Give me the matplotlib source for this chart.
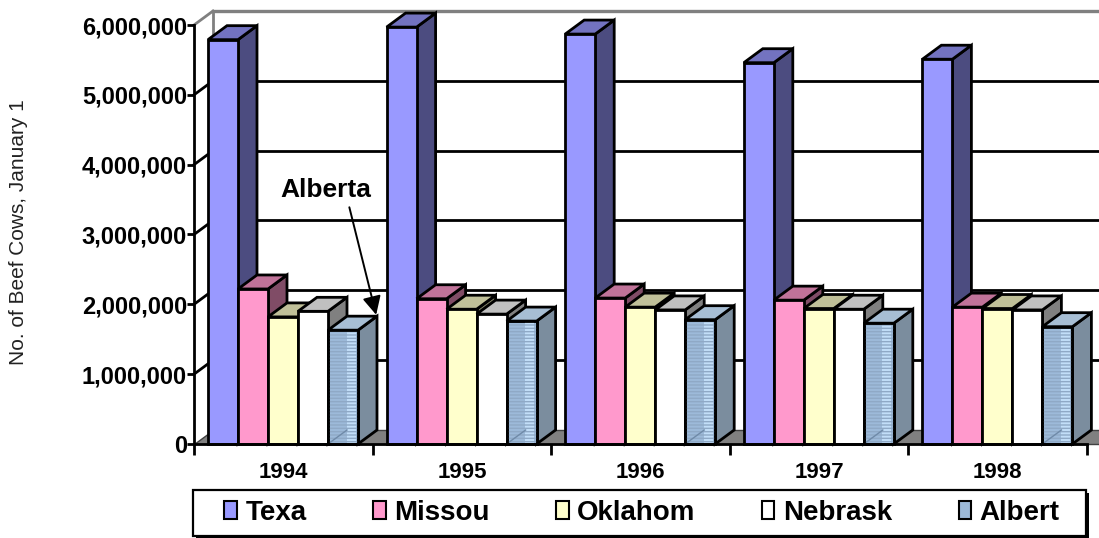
import numpy as np
import matplotlib
matplotlib.use("Agg")
import matplotlib.pyplot as plt
from matplotlib.patches import Polygon, Patch, Rectangle

plt.rcParams['font.family'] = ['Liberation Sans', 'DejaVu Sans']

years = ['1994', '1995', '1996', '1997', '1998']
series = ['Texa', 'Missou', 'Oklahom', 'Nebrask', 'Albert']
texas = [5790000, 5970000, 5870000, 5460000, 5510000]
missouri = [2220000, 2080000, 2090000, 2060000, 1960000]
oklahoma = [1820000, 1930000, 1960000, 1940000, 1940000]
nebraska = [1900000, 1860000, 1920000, 1930000, 1920000]
alberta = [1630000, 1760000, 1780000, 1730000, 1680000]
values = [texas, missouri, oklahoma, nebraska, alberta]

front_cols = ['#9999FF', '#FF99CC', '#FFFFCC', '#FFFFFF', '#9DBAD9']
top_cols = ['#7373C0', '#C07399', '#C0C099', '#C0C0C0', '#A7BED4']
side_cols = ['#4C4C80', '#804C66', '#808066', '#808080', '#7B8D9E']

W, H = 1099, 538
fig = plt.figure(figsize=(W / 100, H / 100), dpi=100)
x_left, x_right, y_zero, y_top = 194, 1087, 444, 25
ax = fig.add_axes([x_left / W, (H - y_zero) / H, (x_right - x_left) / W, (y_zero - y_top) / H])
ax.set_xlim(0, 5)
ax.set_ylim(0, 6e6)

px_x = (x_right - x_left) / 5.0
px_y = (y_zero - y_top) / 6e6
dx = 19 / px_x
dy = 14 / px_y

lw = 2.0
# back wall
ax.add_patch(Polygon([(dx, dy), (5 + dx, dy), (5 + dx, 6e6 + dy), (dx, 6e6 + dy)],
                     closed=True, facecolor='white', edgecolor='none', zorder=0.5, clip_on=False))
for v in range(1, 6):
    yv = v * 1e6
    ax.plot([dx, 5 + dx], [yv + dy, yv + dy], color='black', lw=lw, zorder=0.6, clip_on=False)
    ax.plot([0, dx], [yv, yv + dy], color='black', lw=lw, zorder=0.6, clip_on=False)
ax.plot([dx, 5 + dx], [6e6 + dy, 6e6 + dy], color='#808080', lw=lw + 0.4, zorder=0.6, clip_on=False)
ax.plot([0, dx], [6e6, 6e6 + dy], color='#808080', lw=lw, zorder=0.6, clip_on=False)
ax.plot([dx, dx], [dy, 6e6 + dy], color='#808080', lw=lw, zorder=0.6, clip_on=False)
# floor
ax.add_patch(Polygon([(0, 0), (5 + dx, 0), (5 + dx, dy), (dx, dy)], closed=True,
                     facecolor='#808080', edgecolor='#404040', lw=1.0, zorder=0.7, clip_on=False))

off = 14 / px_x
bw = 30 / px_x
z = 2
for i in range(len(years)):
    for s in range(len(series)):
        x0 = i + off + s * bw
        h = values[s][i]
        # side
        ax.add_patch(Polygon([(x0 + bw, 0), (x0 + bw + dx, dy), (x0 + bw + dx, h + dy), (x0 + bw, h)],
                             closed=True, facecolor=side_cols[s], edgecolor='black', lw=lw,
                             joinstyle='miter', zorder=z, clip_on=False))
        # top
        ax.add_patch(Polygon([(x0, h), (x0 + bw, h), (x0 + bw + dx, h + dy), (x0 + dx, h + dy)],
                             closed=True, facecolor=top_cols[s], edgecolor='black', lw=lw,
                             joinstyle='miter', zorder=z, clip_on=False))
        # front
        ax.bar(x0, h, width=bw, align='edge', color=front_cols[s], edgecolor='black',
               linewidth=lw, zorder=z + 0.1, clip_on=False)
        if s == 4:
            ax.bar(x0 + bw * 0.62, h, width=bw * 0.3, align='edge', color='#C2DEF8',
                   linewidth=0, zorder=z + 0.15, clip_on=False)
            ax.bar(x0, h, width=bw, align='edge', color='none', edgecolor='#8FA9C6',
                   hatch='-----', linewidth=0, zorder=z + 0.2, clip_on=False)
            ax.plot([x0, x0 + dx], [0, dy], color='#6F8AA8', lw=1.0, zorder=z + 0.25)
            ax.bar(x0, h, width=bw, align='edge', color='none', edgecolor='black',
                   linewidth=lw, zorder=z + 0.3, clip_on=False)
        z += 1

for sp in ['top', 'right']:
    ax.spines[sp].set_visible(False)
for sp in ['left', 'bottom']:
    ax.spines[sp].set_linewidth(lw)
    ax.spines[sp].set_zorder(100)

yt = np.arange(0, 7) * 1e6
ax.set_yticks(yt)
ax.set_yticklabels([f'{int(v):,}' for v in yt], fontweight='bold')
ax.tick_params(axis='y', length=5, width=lw, pad=0, labelsize=17)

ax.set_xticks(np.arange(0, 6))
ax.set_xticklabels([])
ax.tick_params(axis='x', which='major', length=8, width=lw)
ax.set_xticks(np.arange(len(years)) + 0.5, minor=True)
ax.set_xticklabels(years, minor=True, fontweight='bold', fontsize=16)
ax.tick_params(axis='x', which='minor', length=0, pad=13)

fig.text(19 / W, (H - 232) / H, 'No. of Beef Cows, January 1', rotation=90,
         ha='center', va='center', fontsize=15, color='#222222')

ax.annotate('Alberta', xy=(1.02, 1.85e6), xytext=(0.74, 3.64e6), textcoords='data',
            ha='center', va='center', fontsize=19, fontweight='bold', zorder=200,
            arrowprops=dict(arrowstyle='-|>', color='black', lw=1.4, mutation_scale=28,
                            relpos=(0.74, 0.0), shrinkA=2, shrinkB=0))

# legend frame with solid shadow
bx0, by0, bx1, by1 = 193, 490, 1086, 536
fig.patches.append(Rectangle(((bx0 + 3) / W, (H - by1 - 3) / H), (bx1 - bx0) / W, (by1 - by0) / H,
                             transform=fig.transFigure, facecolor='black', edgecolor='black',
                             lw=0, zorder=1))
fig.patches.append(Rectangle((bx0 / W, (H - by1) / H), (bx1 - bx0) / W, (by1 - by0) / H,
                             transform=fig.transFigure, facecolor='white', edgecolor='black',
                             lw=1.6, zorder=2))

handles = [Patch(facecolor=front_cols[s], edgecolor='black', linewidth=1.5) for s in range(5)]
leg = fig.legend(handles, series, loc='center', ncol=5,
                 bbox_to_anchor=(642 / W, (H - 513) / H),
                 prop={'weight': 'bold', 'size': 20}, handlelength=0.45, handleheight=0.6,
                 handletextpad=0.3, borderpad=0.2, columnspacing=2.4, frameon=False)
leg.set_zorder(5)

fig.savefig('out.png', dpi=100)
